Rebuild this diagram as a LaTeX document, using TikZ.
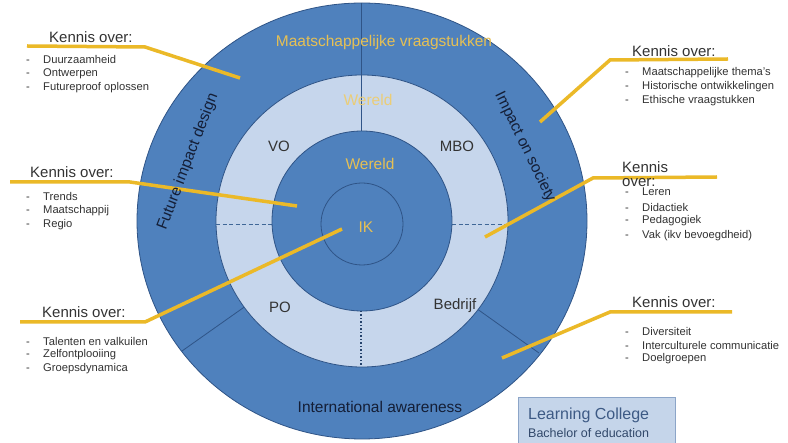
\documentclass[tikz,border=0pt]{standalone}
\usepackage{fontspec}
\setmainfont{Liberation Sans}
\definecolor{ringblue}{HTML}{4F81BD}
\definecolor{lightring}{HTML}{C6D6EC}
\definecolor{edgeblue}{HTML}{2F5487}
\definecolor{gold}{HTML}{EBB928}
\definecolor{goldtext}{HTML}{E6C054}
\definecolor{navytext}{HTML}{141E36}
\definecolor{graytext}{HTML}{333333}
\definecolor{boxfill}{HTML}{C5D5EA}
\definecolor{boxedge}{HTML}{8CA5C8}
\definecolor{boxtext}{HTML}{3D5A85}
\begin{document}
\begin{tikzpicture}[x=1pt,y=-1pt,
  callout/.style={draw=gold,line width=3.5pt},
  heading/.style={anchor=west,inner sep=0pt,font=\fontsize{15}{17}\selectfont,text=graytext},
  item/.style={anchor=west,inner sep=0pt,font=\fontsize{11.2}{13}\selectfont,text=graytext},
  ringtext/.style={inner sep=0pt,font=\fontsize{15.5}{17}\selectfont,text=navytext},
  lighttext/.style={inner sep=0pt,font=\fontsize{15}{17}\selectfont,text=graytext},
  yellowtext/.style={inner sep=0pt,font=\fontsize{15.5}{17}\selectfont,text=goldtext},
  divider/.style={draw=edgeblue,line width=0.8pt}
]
\useasboundingbox (0,0) rectangle (788,443);
\fill[white] (0,0) rectangle (788,443);

% centre
\coordinate (c) at (362,221);

% outer ring
\draw[fill=ringblue,draw=edgeblue,line width=0.8pt] (c) ellipse [x radius=225pt, y radius=218pt];
% outer ring dividers
\coordinate (dl1) at (250,303);
\coordinate (dl2) at (182,351);
\coordinate (dr1) at (473,306);
\coordinate (dr2) at (539,353);
\draw[divider] (dl1) -- (dl2);
\draw[divider] (dr1) -- (dr2);
\coordinate (vt1) at (361,3);
\coordinate (vt2) at (361,221);
% light ring
\draw[fill=lightring,draw=edgeblue,line width=0.8pt] (c) circle [radius=146pt];
\draw[divider] (vt1) -- (vt2);
% dashed horizontals
\coordinate (hl1) at (216,225);
\coordinate (hl2) at (272,225);
\coordinate (hr1) at (452,225);
\coordinate (hr2) at (508,225);
\draw[draw=ringblue!80!black,line width=1pt,dash pattern=on 4pt off 2.5pt] (hl1) -- (hl2);
\draw[draw=ringblue!80!black,line width=1pt,dash pattern=on 4pt off 2.5pt] (hr1) -- (hr2);
% middle circle
\draw[fill=ringblue,draw=edgeblue,line width=0.8pt] (c) circle [radius=90pt];
% inner circle
\draw[draw=edgeblue,line width=0.8pt] (362,224) circle [radius=41pt];
% dotted bottom line
\coordinate (vb1) at (361,311);
\coordinate (vb2) at (361,367);
\draw[draw=edgeblue!80!black,line width=1.5pt,dotted] (vb1) -- (vb2);

% ring texts
\node[yellowtext] (maat) at (384,42) {Maatschappelijke vraagstukken};
\node[yellowtext,text=goldtext!80!white] (wereldlight) at (368,100) {Wereld};
\node[yellowtext] (wereld) at (370,164) {Wereld};
\node[yellowtext] (ik) at (366,227) {IK};
\node[lighttext] (vo) at (279,146) {VO};
\node[lighttext] (mbo) at (457,146) {MBO};
\node[lighttext] (po) at (280,307) {PO};
\node[lighttext] (bedrijf) at (455,306) {Bedrijf};
\node[ringtext] (intl) at (380,407) {International awareness};

% callout lines
\coordinate (a1) at (27,46);  \coordinate (a2) at (145,47);  \coordinate (a3) at (240,78);
\coordinate (b1) at (728,59); \coordinate (b2) at (610,60);  \coordinate (b3) at (540,122);
\coordinate (e1) at (10,182); \coordinate (e2) at (130,182); \coordinate (e3) at (297,206);
\coordinate (f1) at (717,177);\coordinate (f2) at (593,178); \coordinate (f3) at (485,237);
\coordinate (g1) at (20,322); \coordinate (g2) at (145,322); \coordinate (g3) at (342,229);
\coordinate (h1) at (732,312);\coordinate (h2) at (610,312); \coordinate (h3) at (502,358);
\draw[callout] (a1) -- (a2) -- (a3);
\draw[callout] (b1) -- (b2) -- (b3);
\draw[callout] (e1) -- (e2) -- (e3);
\draw[callout] (f1) -- (f2) -- (f3);
\draw[callout] (g1) -- (g2) -- (g3);
\draw[callout] (h1) -- (h2) -- (h3);

% rotated ring texts
\node[ringtext,rotate=69] (fid) at (188,162) {Future impact design};
\node[ringtext,rotate=-64] (ios) at (525,147) {Impact on society};

% Top-left block
\node[heading] (tl0) at (49,37) {Kennis over:};
\node[item] (tl1) at (26,60) {\makebox[17pt][l]{-}Duurzaamheid};
\node[item] (tl2) at (26,74) {\makebox[17pt][l]{-}Ontwerpen};
\node[item] (tl3) at (26,88) {\makebox[17pt][l]{-}Futureproof oplossen};

% Top-right block
\node[heading] (tr0) at (632,51) {Kennis over:};
\node[item] (tr1) at (625,73) {\makebox[17pt][l]{-}Maatschappelijke thema's};
\node[item] (tr2) at (625,87) {\makebox[17pt][l]{-}Historische ontwikkelingen};
\node[item] (tr3) at (625,101) {\makebox[17pt][l]{-}Ethische vraagstukken};

% Middle-left block
\node[heading] (ml0) at (30,172) {Kennis over:};
\node[item] (ml1) at (26,197) {\makebox[17pt][l]{-}Trends};
\node[item] (ml2) at (26,211) {\makebox[17pt][l]{-}Maatschappij};
\node[item] (ml3) at (26,225) {\makebox[17pt][l]{-}Regio};

% Middle-right block
\node[heading] (mr0) at (622,167) {Kennis};
\node[heading] (mr0b) at (622,183) {over:};
\node[item] (mr1) at (625,192) {\makebox[17pt][l]{-}Leren};
\node[item] (mr2) at (625,207) {\makebox[17pt][l]{-}Didactiek};
\node[item] (mr3) at (625,221) {\makebox[17pt][l]{-}Pedagogiek};
\node[item] (mr4) at (625,236) {\makebox[17pt][l]{-}Vak (ikv bevoegdheid)};

% Bottom-left block
\node[heading] (bl0) at (42,312) {Kennis over:};
\node[item] (bl1) at (26,341) {\makebox[17pt][l]{-}Talenten en valkuilen};
\node[item] (bl2) at (26,355) {\makebox[17pt][l]{-}Zelfontplooiing};
\node[item] (bl3) at (26,369) {\makebox[17pt][l]{-}Groepsdynamica};

% Bottom-right block
\node[heading] (br0) at (632,302) {Kennis over:};
\node[item] (br1) at (625,331) {\makebox[17pt][l]{-}Diversiteit};
\node[item] (br2) at (625,345) {\makebox[17pt][l]{-}Interculturele communicatie};
\node[item] (br3) at (625,359) {\makebox[17pt][l]{-}Doelgroepen};

% Learning College box
\draw[fill=boxfill,draw=boxedge,line width=1pt] (518,398) rectangle (675,446);
\node[anchor=west,inner sep=0pt,font=\fontsize{16}{18}\selectfont,text=boxtext] (lc) at (528,415) {Learning College};
\node[anchor=west,inner sep=0pt,font=\fontsize{12.5}{14}\selectfont,text=boxtext!80!black] (be) at (528,433) {Bachelor of education};
\end{tikzpicture}
\end{document}
